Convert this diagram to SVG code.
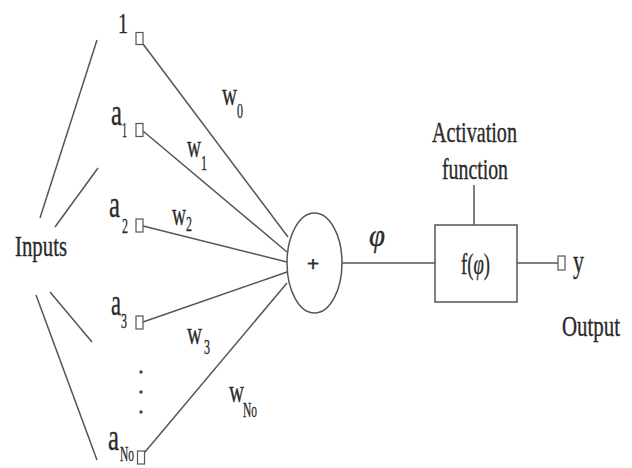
<svg xmlns="http://www.w3.org/2000/svg" width="632" height="468" viewBox="0 0 632 468">
<style>
.ln{stroke:#555;stroke-width:1.5;fill:none}
.sq{stroke:#555;stroke-width:1.2;fill:#fff}
.t{font-family:"Liberation Serif",serif;fill:#2a2a2a;stroke:#2a2a2a;stroke-width:0.35}
.big{font-size:30px}
.a{font-size:38px}
.w{font-size:32px}
.s{font-size:21px}
</style>
<rect width="632" height="468" fill="#fff"/>
<g id="connectors">
<line class="ln" x1="97" y1="40" x2="40" y2="218"/>
<line class="ln" x1="98" y1="168" x2="55" y2="227"/>
<line class="ln" x1="50" y1="292" x2="92" y2="342"/>
<line class="ln" x1="36" y1="295" x2="97" y2="460"/>
<line class="ln" x1="143" y1="44" x2="288" y2="237"/>
<line class="ln" x1="143" y1="131" x2="287" y2="252"/>
<line class="ln" x1="143" y1="226" x2="287" y2="262"/>
<line class="ln" x1="143" y1="322" x2="287" y2="272"/>
<line class="ln" x1="145" y1="452" x2="287" y2="283"/>
<line class="ln" x1="342" y1="263" x2="435" y2="263"/>
<line class="ln" x1="474" y1="185" x2="474" y2="225"/>
<line class="ln" x1="517" y1="263" x2="558" y2="263"/>
</g>
<g id="inputs-label"><text class="t big" x="15" y="256" textLength="52" lengthAdjust="spacingAndGlyphs">Inputs</text></g>
<g id="in-1">
<text class="t big" x="118" y="33" textLength="10" lengthAdjust="spacingAndGlyphs">1</text>
<rect class="sq" x="136" y="32.5" width="7" height="12"/>
</g>
<g id="in-a1">
<text class="t a" x="111" y="125" textLength="11" lengthAdjust="spacingAndGlyphs">a</text>
<text class="t s" x="122" y="137" textLength="5" lengthAdjust="spacingAndGlyphs">1</text>
<rect class="sq" x="136" y="123.5" width="7" height="13"/>
</g>
<g id="in-a2">
<text class="t a" x="109" y="217" textLength="11" lengthAdjust="spacingAndGlyphs">a</text>
<text class="t s" x="122" y="233" textLength="6" lengthAdjust="spacingAndGlyphs">2</text>
<rect class="sq" x="136" y="219" width="7" height="13"/>
</g>
<g id="in-a3">
<text class="t a" x="111" y="315" textLength="10" lengthAdjust="spacingAndGlyphs">a</text>
<text class="t s" x="121" y="328" textLength="6" lengthAdjust="spacingAndGlyphs">3</text>
<rect class="sq" x="136" y="316" width="7" height="13"/>
</g>
<g id="dots" fill="#444">
<circle cx="141" cy="372" r="1.7"/>
<circle cx="141" cy="392" r="1.7"/>
<circle cx="141" cy="412" r="1.7"/>
</g>
<g id="in-aN0">
<text class="t a" x="108" y="450" textLength="11" lengthAdjust="spacingAndGlyphs">a</text>
<text class="t s" x="120" y="461" textLength="14" lengthAdjust="spacingAndGlyphs">No</text>
<rect class="sq" x="137.5" y="451" width="7" height="13"/>
</g>
<g id="weights">
<text class="t w" x="222" y="105" textLength="15" lengthAdjust="spacingAndGlyphs">w</text>
<text class="t s" x="237" y="118" textLength="6" lengthAdjust="spacingAndGlyphs">0</text>
<text class="t w" x="187" y="157" textLength="14" lengthAdjust="spacingAndGlyphs">w</text>
<text class="t s" x="201" y="170" textLength="6" lengthAdjust="spacingAndGlyphs">1</text>
<text class="t w" x="172" y="225" textLength="14" lengthAdjust="spacingAndGlyphs">w</text>
<text class="t s" x="186" y="231" textLength="6" lengthAdjust="spacingAndGlyphs">2</text>
<text class="t w" x="187" y="344" textLength="15" lengthAdjust="spacingAndGlyphs">w</text>
<text class="t s" x="204" y="354" textLength="6" lengthAdjust="spacingAndGlyphs">3</text>
<text class="t w" x="229" y="402" textLength="15" lengthAdjust="spacingAndGlyphs">w</text>
<text class="t s" x="243" y="417" textLength="14" lengthAdjust="spacingAndGlyphs">No</text>
</g>
<g id="sum">
<ellipse class="ln" cx="314.5" cy="263" rx="27.5" ry="50"/>
<text class="t" x="313" y="271" font-size="22" font-weight="bold" text-anchor="middle">+</text>
</g>
<g id="phi-label"><text class="t" x="369" y="246" font-size="32" font-style="italic" textLength="16" lengthAdjust="spacingAndGlyphs">φ</text></g>
<g id="activation">
<text class="t big" x="432" y="142" textLength="85" lengthAdjust="spacingAndGlyphs">Activation</text>
<text class="t big" x="442" y="179" textLength="66" lengthAdjust="spacingAndGlyphs">function</text>
<rect class="ln" x="435" y="225" width="82" height="77"/>
<text class="t" x="461" y="274" font-size="30" textLength="29" lengthAdjust="spacingAndGlyphs">f(<tspan font-style="italic">φ</tspan>)</text>
</g>
<g id="output">
<rect class="sq" x="558" y="256" width="7" height="14"/>
<text class="t" x="573" y="272" font-size="32" textLength="11" lengthAdjust="spacingAndGlyphs">y</text>
<text class="t big" x="562" y="336" textLength="58" lengthAdjust="spacingAndGlyphs">Output</text>
</g>
</svg>
